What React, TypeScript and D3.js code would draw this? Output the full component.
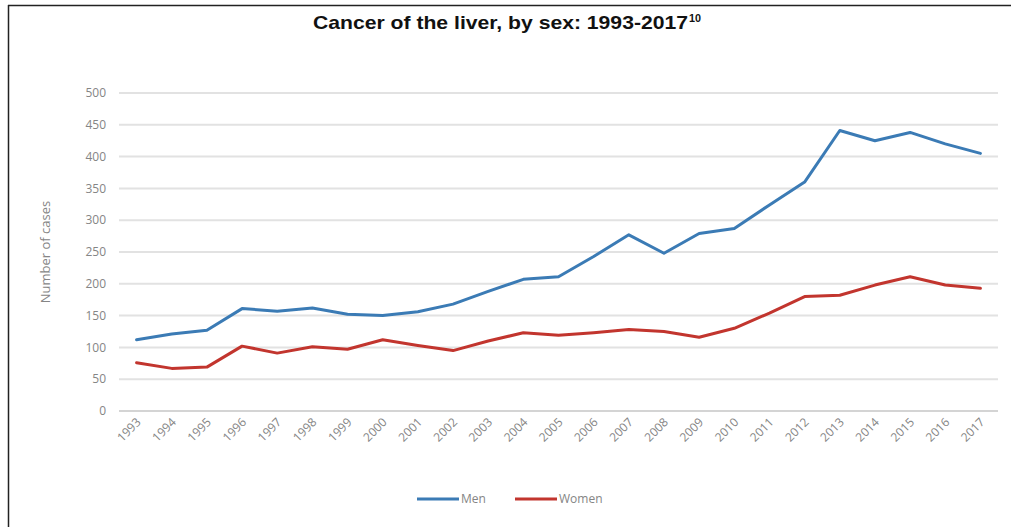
import React from "react";
import * as d3 from "d3";

const years = [
  "1993","1994","1995","1996","1997","1998","1999","2000","2001","2002","2003","2004","2005",
  "2006","2007","2008","2009","2010","2011","2012","2013","2014","2015","2016","2017",
];
const men = [112, 121, 127, 161, 157, 162, 152, 150, 156, 168, 188, 207, 211, 243, 277, 248, 279, 287, 324, 360, 441, 425, 438, 420, 405];
const women = [76, 67, 69, 102, 91, 101, 97, 112, 103, 95, 110, 123, 119, 123, 128, 125, 116, 130, 154, 180, 182, 198, 211, 198, 193];
const yTicks = [0, 50, 100, 150, 200, 250, 300, 350, 400, 450, 500];
const seriesNames = ["Men", "Women"];
const seriesColors = ["#3b7bb5", "#c2352e"];

const W = 1011;
const H = 527;
const margin = { left: 119, right: 13, top: 93, bottom: 116 };

export default function App() {
  const x = d3
    .scaleBand<string>()
    .domain(years)
    .range([margin.left, W - margin.right]);
  const y = d3
    .scaleLinear()
    .domain([0, 500])
    .range([H - margin.bottom, margin.top]);
  const cx = (d: string) => (x(d) as number) + x.bandwidth() / 2;
  const line = d3
    .line<number>()
    .x((_, i) => cx(years[i]))
    .y((v) => y(v));
  const series = [men, women];
  const tickColor = "#858585";
  const font = "'Open Sans', 'Liberation Sans', Arial, sans-serif";

  return (
    <svg
      width={W}
      height={H}
      style={{ position: "absolute", left: 0, top: 0, background: "#fff" }}
    >
      <rect x={0} y={0} width={W} height={H} fill="#fff" />
      {/* frame */}
      <line x1={8} y1={5.5} x2={W} y2={5.5} stroke="#222" strokeWidth={1.5} />
      <line x1={8.5} y1={5} x2={8.5} y2={H} stroke="#222" strokeWidth={1.5} />

      {/* title */}
      <text
        x={313}
        y={29}
        textLength={375}
        lengthAdjust="spacingAndGlyphs"
        fontFamily="'Liberation Sans', Arial, sans-serif"
        fontWeight="bold"
        fontSize={19}
        fill="#111"
      >
        Cancer of the liver, by sex: 1993-2017
      </text>
      <text
        x={689}
        y={22}
        textLength={12}
        lengthAdjust="spacingAndGlyphs"
        fontFamily="'Liberation Sans', Arial, sans-serif"
        fontWeight="bold"
        fontSize={11}
        fill="#111"
      >
        10
      </text>

      {/* gridlines */}
      {yTicks.map((t) => (
        <line
          key={"g" + t}
          x1={margin.left}
          x2={W - margin.right}
          y1={y(t)}
          y2={y(t)}
          stroke={t === 0 ? "#d4d4d4" : "#e2e2e2"}
          strokeWidth={2}
        />
      ))}

      {/* y tick labels */}
      {yTicks.map((t) => (
        <text
          key={"t" + t}
          x={106}
          y={y(t)}
          dy="0.35em"
          textAnchor="end"
          fontFamily={font}
          fontSize={12}
          fill={tickColor}
        >
          {t}
        </text>
      ))}

      {/* y axis title */}
      <text
        transform={`translate(50,${(y(0) + y(500)) / 2}) rotate(-90)`}
        textAnchor="middle"
        fontFamily={font}
        fontSize={13}
        fill={tickColor}
      >
        Number of cases
      </text>

      {/* x labels */}
      {years.map((yr) => (
        <text
          key={"x" + yr}
          transform={`translate(${cx(yr) + 5},${y(0) + 12}) rotate(-45)`}
          textAnchor="end"
          fontFamily={font}
          fontSize={12}
          fill={tickColor}
        >
          {yr}
        </text>
      ))}

      {/* lines */}
      {series.map((s, i) => (
        <path
          key={seriesNames[i]}
          d={line(s) || ""}
          fill="none"
          stroke={seriesColors[i]}
          strokeWidth={3}
          strokeLinejoin="round"
          strokeLinecap="round"
        />
      ))}

      {/* legend */}
      {seriesNames.map((n, i) => {
        const lx = i === 0 ? 417 : 515;
        return (
          <g key={"l" + n}>
            <line
              x1={lx}
              x2={lx + 42}
              y1={499}
              y2={499}
              stroke={seriesColors[i]}
              strokeWidth={3}
            />
            <text
              x={lx + 44}
              y={499}
              dy="0.35em"
              fontFamily={font}
              fontSize={12}
              fill={tickColor}
            >
              {n}
            </text>
          </g>
        );
      })}
    </svg>
  );
}
